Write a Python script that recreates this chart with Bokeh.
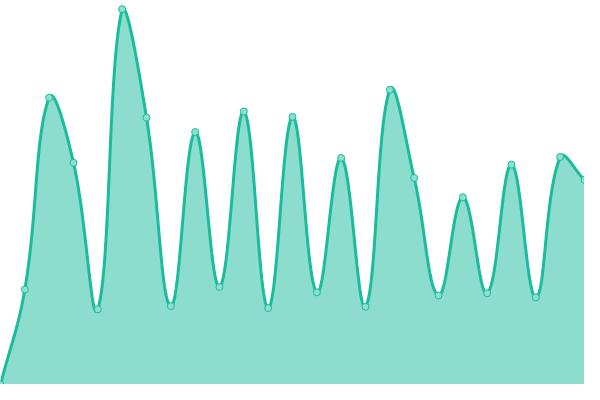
import numpy as np
from bokeh.plotting import figure
from bokeh.models import Range1d, ColumnDataSource
from bokeh.embed import file_html
from bokeh.resources import INLINE

# data
labels = list(range(25))
values = [0, 24.75, 74.7, 57.75, 19.6, 97.75, 69.5, 20.4, 65.75, 25.4,
          71.1, 19.9, 69.7, 24.0, 59.0, 20.25, 76.75, 53.8, 23.2, 48.75,
          23.75, 57.25, 22.7, 59.25, 53.3]

W, H = 584, 384
Y_MIN, Y_MAX = 0, 100
TENSION = 0.4

x = np.array(labels, dtype=float)
y = np.array(values, dtype=float)

# Chart.js-style spline (tension 0.4) computed in pixel space
sx = W / (x[-1] - x[0])
sy = H / (Y_MAX - Y_MIN)
px = (x - x[0]) * sx
py = (y - Y_MIN) * sy
n = len(px)
cpp = np.zeros((n, 2))
cpn = np.zeros((n, 2))
for i in range(n):
    pi = max(i - 1, 0)
    ni = min(i + 1, n - 1)
    d01 = np.hypot(px[i] - px[pi], py[i] - py[pi])
    d12 = np.hypot(px[ni] - px[i], py[ni] - py[i])
    tot = d01 + d12
    s01 = d01 / tot if tot else 0
    s12 = d12 / tot if tot else 0
    fa, fb = TENSION * s01, TENSION * s12
    dx, dy = px[ni] - px[pi], py[ni] - py[pi]
    cpp[i] = (px[i] - fa * dx, py[i] - fa * dy)
    cpn[i] = (px[i] + fb * dx, py[i] + fb * dy)
cpp[:, 0] = np.clip(cpp[:, 0], 0, W); cpp[:, 1] = np.clip(cpp[:, 1], 0, H)
cpn[:, 0] = np.clip(cpn[:, 0], 0, W); cpn[:, 1] = np.clip(cpn[:, 1], 0, H)

cx, cy = [], []
t = np.linspace(0, 1, 30)
for i in range(n - 1):
    p0 = np.array([px[i], py[i]]); p3 = np.array([px[i + 1], py[i + 1]])
    p1 = cpn[i]; p2 = cpp[i + 1]
    b = (((1 - t) ** 3)[:, None] * p0 + (3 * (1 - t) ** 2 * t)[:, None] * p1
         + (3 * (1 - t) * t ** 2)[:, None] * p2 + (t ** 3)[:, None] * p3)
    cx.extend(b[:, 0]); cy.extend(b[:, 1])
curve_x = np.array(cx) / sx + x[0]
curve_y = np.array(cy) / sy + Y_MIN

p = figure(width=W, height=H, output_backend="svg", toolbar_location=None,
           x_range=Range1d(x[0], x[-1]), y_range=Range1d(Y_MIN, Y_MAX),
           min_border=0)
p.axis.visible = False
p.grid.visible = False
p.outline_line_color = None
p.background_fill_color = "white"
p.border_fill_color = "white"

color = "#1abc9c"
p.varea(x=curve_x, y1=np.zeros_like(curve_y), y2=curve_y,
        fill_color=color, fill_alpha=0.5)
p.line(curve_x, curve_y, line_color=color, line_width=3)
src = ColumnDataSource(dict(x=x, y=y))
p.scatter("x", "y", source=src, size=7, fill_color="#8ddfcf",
          line_color=color, line_width=1)

open("out.html", "w").write(file_html(p, INLINE))
